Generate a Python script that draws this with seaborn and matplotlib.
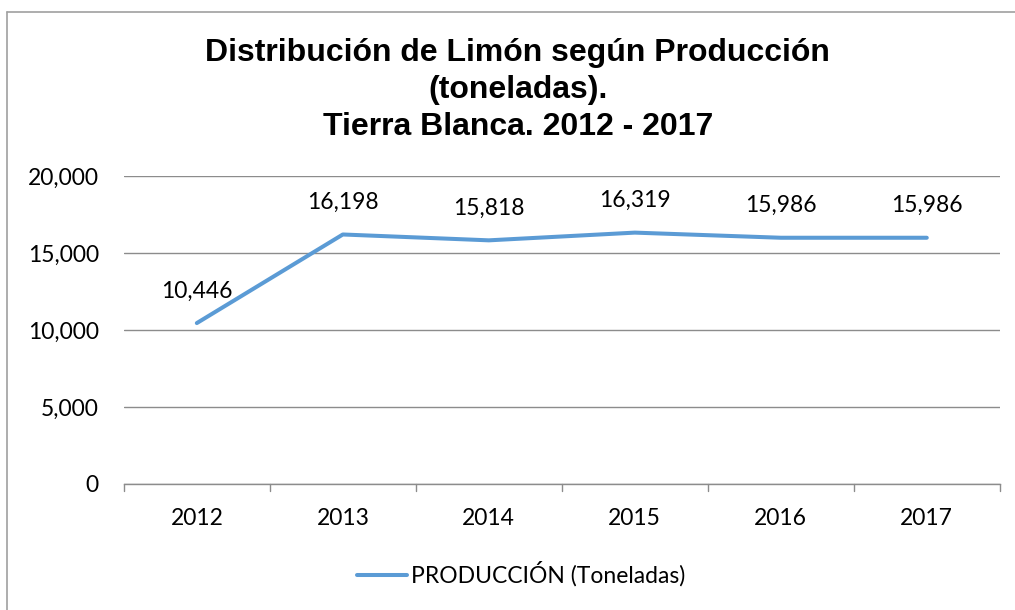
import pandas as pd
import matplotlib.pyplot as plt
import seaborn as sns
from matplotlib.lines import Line2D

# datos
years = ['2012', '2013', '2014', '2015', '2016', '2017']
produccion = [10446, 16198, 15818, 16319, 15986, 15986]
serie = 'PRODUCCIÓN (Toneladas)'
yticks = [0, 5000, 10000, 15000, 20000]

df = pd.DataFrame({'year': years, 'value': produccion})

sns.set_theme(style="white")
plt.rcParams['font.family'] = ['Lato', 'DejaVu Sans']
plt.rcParams['text.color'] = 'black'
plt.rcParams['xtick.color'] = 'black'
plt.rcParams['ytick.color'] = 'black'

fig = plt.figure(figsize=(10.15, 6.1), dpi=100)
ax = fig.add_axes([0.122, 0.2066, 0.863, 0.505])

sns.lineplot(data=df, x='year', y='value', ax=ax, color='#5B9BD5',
             linewidth=2.9, label=serie, sort=False)

ax.set_ylim(0, 20000)
ax.set_xlim(-0.5, 5.5)
ax.set_yticks(yticks)
ax.set_yticklabels([f'{v:,}' for v in yticks], fontsize=16.5)
ax.tick_params(axis='x', labelsize=16.5, length=0, pad=17.5)
ax.tick_params(axis='y', length=0, pad=18)
ax.yaxis.grid(True, color='#8c8c8c', linewidth=1)
ax.set_axisbelow(True)
for s in ['top', 'right', 'left']:
    ax.spines[s].set_visible(False)
ax.spines['bottom'].set_color('#8c8c8c')
ax.spines['bottom'].set_linewidth(1)
# marcas entre categorías
for b in [i - 0.5 for i in range(len(years) + 1)]:
    ax.plot([b, b], [0, -0.022], transform=ax.get_xaxis_transform(),
            color='#8c8c8c', lw=1, clip_on=False)
ax.set_xlabel('')
ax.set_ylabel('')

for i, v in enumerate(produccion):
    ax.annotate(f'{v:,}', (i, v), xytext=(0, 23), textcoords='offset points',
                ha='center', va='center', fontsize=16.5)

fig.text(0.51, 1 - 90/610, 'Distribución de Limón según Producción\n(toneladas).\nTierra Blanca. 2012 - 2017',
         ha='center', va='center', multialignment='center', fontsize=23, fontweight='bold',
         family=['Liberation Sans', 'DejaVu Sans'], linespacing=1.29)

ax.legend(loc='center', bbox_to_anchor=(521/1015, 1 - 574/610),
          bbox_transform=fig.transFigure, frameon=False,
          fontsize=16.5, handlelength=2.2, handletextpad=0.15)

# borde del gráfico
fig.add_artist(Line2D([7/1015, 1], [1 - 12/610, 1 - 12/610], color='#a0a0a0', lw=1.2))
fig.add_artist(Line2D([7/1015, 7/1015], [0, 1 - 12/610], color='#a0a0a0', lw=1.2))

fig.savefig('out.png', dpi=100)
